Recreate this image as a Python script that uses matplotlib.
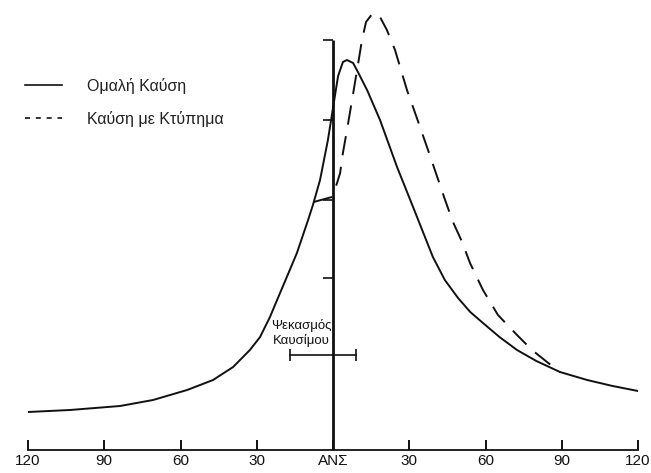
import numpy as np
import matplotlib as mpl
mpl.use("Agg")
from matplotlib import pyplot as plt
from matplotlib.lines import Line2D

mpl.rcParams["font.family"] = ["Liberation Sans", "DejaVu Sans"]

# crank angle (deg) and cylinder pressure (arbitrary units)
normal_angle = [-120, -103.5, -83.8, -70.8, -57.4, -47.2, -39.3, -32.7, -28.7, -24.8,
                -22.0, -18.0, -14.2, -9.8, -7.9, -5.1, -2.0, 0, 2.0, 3.9, 5.5, 7.9,
                9.8, 13.4, 18.5, 25.2, 31.5, 39.3, 44, 49.2, 54, 59, 65.5, 72.4,
                80, 89.3, 100, 110, 120]
normal_press = [3.8, 4.0, 4.4, 5.0, 6.0, 7.0, 8.3, 10.0, 11.3, 13.3,
                15.0, 17.4, 19.7, 23.0, 24.5, 27.0, 31.0, 34.2, 37.4, 38.8, 39.0, 38.7,
                37.8, 36.0, 33.0, 28.3, 24.3, 19.3, 17.0, 15.2, 13.8, 12.7, 11.3, 10.0,
                8.9, 7.8, 7.0, 6.4, 5.9]

knock_angle = [-7.6, -0.4, 1.6, 2.8, 3.9, 5.5, 7.5, 9.8, 11.4, 13.0, 15.7, 18.5, 21.2,
               24.4, 29.1, 33.0, 38.2, 44.1, 47.2, 50.8, 53.9, 59.0, 64.9, 72.4, 78.3,
               84.2, 89.3]
knock_press = [24.8, 25.3, 26.7, 27.7, 29.7, 32.0, 35.0, 38.5, 41.0, 42.8, 43.7, 43.3, 42.0,
               40.0, 36.0, 33.2, 29.4, 25.0, 22.8, 20.8, 18.7, 16.0, 13.5, 11.5, 10.0,
               8.8, 7.8]

tick_pos = [-120, -90, -60, -30, 0, 30, 60, 90, 120]
tick_labels = ["120", "90", "60", "30", "ΑΝΣ", "30", "60", "90", "120"]

axis_top = 41
axis_marks = [41, 33, 25, 17.2]

inj_start, inj_end, inj_level = -17, 9, 9.5

ink = "#111111"

fig = plt.figure(figsize=(6.51, 4.73), dpi=100)
ax = fig.add_axes([28 / 651, 23 / 473, 610 / 651, 450 / 473])
ax.set_xlim(-120, 120)
ax.set_ylim(0, 45)

ax.plot(normal_angle, normal_press, color=ink, lw=1.4,
        solid_joinstyle="round", solid_capstyle="round")
ax.plot(knock_angle, knock_press, color=ink, lw=1.4, dashes=(10, 6))

# vertical axis at TDC with small marks
ax.vlines(0, 0, axis_top, color=ink, lw=2)
ax.hlines(axis_marks, -3.8, 0, color=ink, lw=1.2)

# fuel injection interval
ax.plot([inj_start, inj_end], [inj_level, inj_level], color=ink, lw=1.2,
        marker="|", markersize=9, markeredgewidth=1.2)
ax.text(-12.5, inj_level + 0.8, "Ψεκασμός\nΚαυσίμου",
        ha="center", va="bottom", fontsize=9.5, color=ink, linespacing=1.15)

for s in ["top", "left", "right"]:
    ax.spines[s].set_visible(False)
ax.spines["bottom"].set_linewidth(1.3)
ax.spines["bottom"].set_color(ink)
ax.set_yticks([])
ax.set_xticks(tick_pos)
ax.set_xticklabels(tick_labels, fontsize=11, color=ink)
ax.tick_params(axis="x", direction="in", length=7, width=1.4, pad=3, colors=ink)

handles = [Line2D([], [], color=ink, lw=1.2),
           Line2D([], [], color=ink, lw=1.2, dashes=(3, 3.5))]
ax.legend(handles, ["Ομαλή Καύση", "Καύση με Κτύπημα"], loc="upper left",
          bbox_to_anchor=(25 / 651, 1 - 78 / 473), bbox_transform=fig.transFigure,
          frameon=False, fontsize=11.5, handlelength=2.3, handletextpad=1.6,
          labelspacing=1.05, borderpad=0, borderaxespad=0, labelcolor="#222222")

fig.savefig("out.png", dpi=100)
